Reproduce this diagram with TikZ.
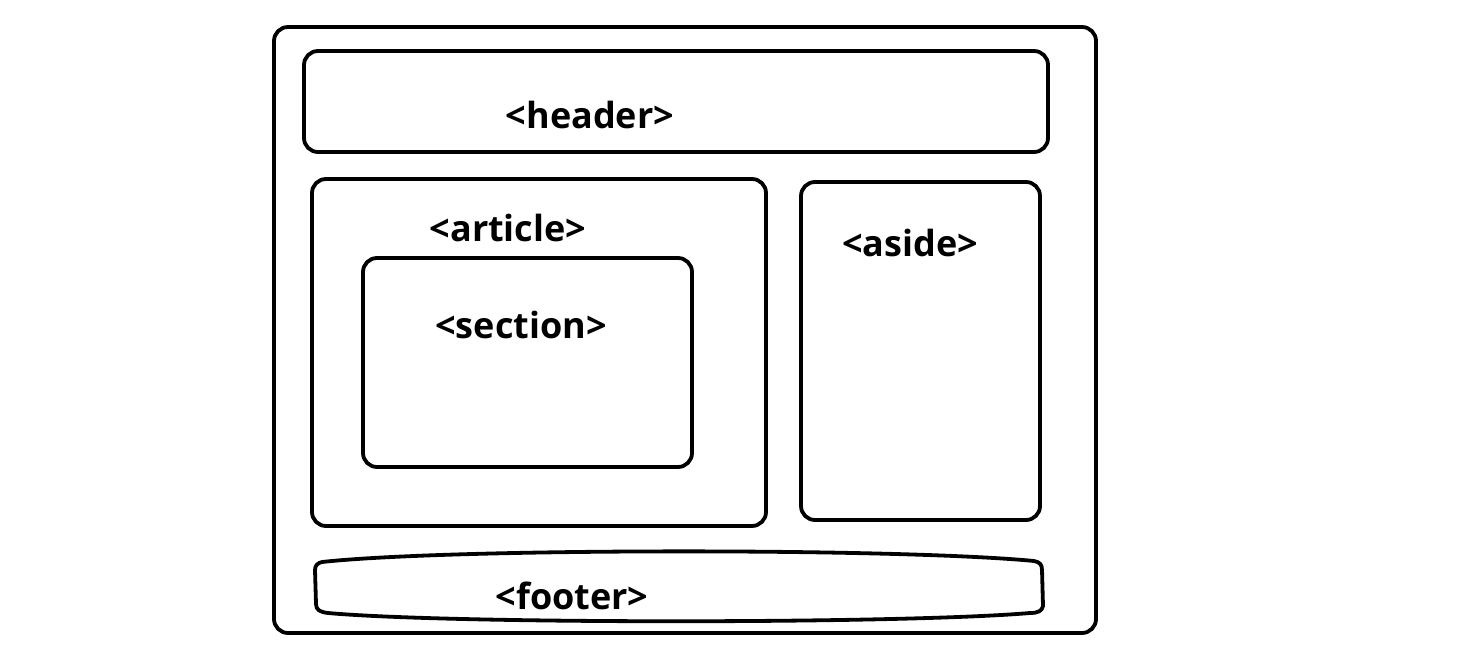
\documentclass[tikz,border=0pt]{standalone}
\usepackage{fontspec}
\setmainfont{Open Sans}
\begin{document}
\begin{tikzpicture}[x=1pt,y=-1pt,
  box/.style={draw=black,line width=3.8pt,rounded corners=14pt},
  lbl/.style={font=\fontsize{36}{38}\selectfont\bfseries,inner sep=0pt}]
\useasboundingbox (0,0) rectangle (1471,668);
\draw[box] (274,27) rectangle (1096,633);
\draw[box] (304,51) rectangle (1048,152);
\draw[box] (312,179) rectangle (766,526);
\draw[box] (363,258) rectangle (692,467);
\draw[box] (801,182) rectangle (1040,520);
\draw[line width=3.8pt,line join=round]
  (322,562) .. controls (450,548) and (900,548) .. (1034,561)
  .. controls (1040,562) and (1042,565) .. (1042,570) -- (1043,606)
  .. controls (1042,611) and (1038,613) .. (1030,613)
  .. controls (900,624) and (450,624) .. (328,613)
  .. controls (320,612) and (316,610) .. (316,604) -- (315,570)
  .. controls (315,565) and (318,563) .. cycle;
\node[lbl] (header) at (590,115) {<header>};
\node[lbl] (article) at (508,228) {<article>};
\node[lbl] (section) at (521,325) {<section>};
\node[lbl] (aside) at (910,243) {<aside>};
\node[lbl] (footer) at (572,596) {<footer>};
\end{tikzpicture}
\end{document}
